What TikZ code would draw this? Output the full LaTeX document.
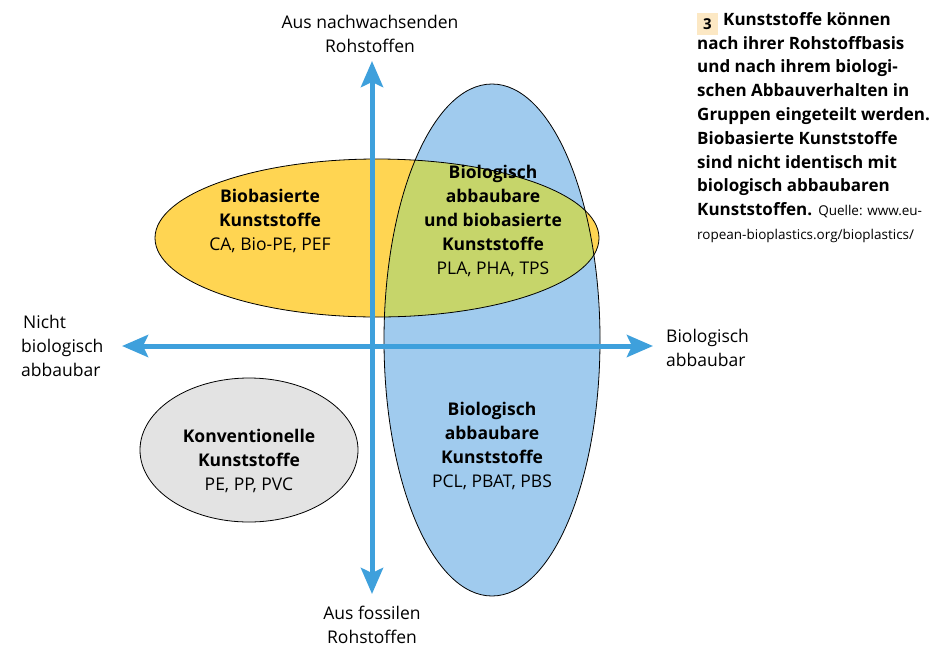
\documentclass[tikz,border=0pt]{standalone}
\usepackage{fontspec}
\setmainfont{Open Sans}
\usetikzlibrary{arrows.meta}
\definecolor{ellyellow}{RGB}{255,213,82}
\definecolor{ellblue}{RGB}{160,203,238}
\definecolor{ellgreen}{RGB}{198,213,106}
\definecolor{ellgray}{RGB}{227,227,227}
\definecolor{axisblue}{RGB}{62,160,220}
\definecolor{numbox}{RGB}{252,232,196}
\tikzset{
  axis/.style={draw=axisblue, line width=5pt, -{Stealth[length=26pt,width=22pt,inset=5pt]}},
  lbl/.style={font=\fontsize{17.5}{24}\selectfont, align=center, inner sep=0pt},
  lblleft/.style={font=\fontsize{17.5}{24}\selectfont, align=left, inner sep=0pt},
  ellline/.style={draw=black, line width=0.8pt},
}
\begin{document}
\begin{tikzpicture}[x=1pt,y=-1pt]
\useasboundingbox (0,0) rectangle (933,646);
% ellipses
\fill[ellyellow] (377,238) ellipse [x radius=222, y radius=79];
\fill[ellblue] (492,340) ellipse [x radius=108, y radius=256];
\begin{scope}
  \clip (492,340) ellipse [x radius=108, y radius=256];
  \fill[ellgreen] (377,238) ellipse [x radius=222, y radius=79];
\end{scope}
\draw[ellline] (377,238) ellipse [x radius=222, y radius=79];
\draw[ellline] (492,340) ellipse [x radius=108, y radius=256];
\draw[ellline, fill=ellgray] (249,450) ellipse [x radius=109, y radius=72];
% axes
\coordinate (vbot) at (372,594);
\coordinate (vtop) at (372,61);
\coordinate (hleft) at (122,346);
\coordinate (hright) at (653,346);
\coordinate (center) at (372,346);
\draw[axis] (center) -- (vtop);
\draw[axis] (center) -- (vbot);
\draw[axis] (center) -- (hleft);
\draw[axis] (center) -- (hright);
% axis labels
\node[lbl] (top) at (370,34) {Aus nachwachsenden\\Rohstoffen};
\node[lbl] (bottom) at (372,625) {Aus fossilen\\Rohstoffen};
\node[lblleft, anchor=west] (left) at (21,346) {\hspace*{2pt}Nicht\\biologisch\\abbaubar};
\node[lblleft, anchor=west] (right) at (666,348) {Biologisch\\abbaubar};
% group labels
\node[lbl] (bio) at (270,221) {\textbf{Biobasierte}\\\textbf{Kunststoffe}\\CA, Bio-PE, PEF};
\node[lbl] (both) at (493,221) {\textbf{Biologisch}\\\textbf{abbaubare}\\\textbf{und biobasierte}\\\textbf{Kunststoffe}\\PLA, PHA, TPS};
\node[lbl] (degr) at (492,446) {\textbf{Biologisch}\\\textbf{abbaubare}\\\textbf{Kunststoffe}\\PCL, PBAT, PBS};
\node[lbl] (conv) at (249,461) {\textbf{Konventionelle}\\\textbf{Kunststoffe}\\PE, PP, PVC};
% caption
\fill[numbox] (697,13) rectangle (718,35);
\node[lbl, font=\fontsize{15}{20}\selectfont\bfseries] (num) at (707.5,24.5) {3};
\node[lblleft, anchor=north west, font=\fontsize{17}{23.8}\selectfont] (cap) at (697,12)
 {\hspace*{26pt}\textbf{Kunststoffe können}\\
  \textbf{nach ihrer Rohstoffbasis}\\
  \textbf{und nach ihrem biologi-}\\
  \textbf{schen Abbauverhalten in}\\
  \textbf{Gruppen eingeteilt werden.}\\
  \textbf{Biobasierte Kunststoffe}\\
  \textbf{sind nicht identisch mit}\\
  \textbf{biologisch abbaubaren}\\
  \textbf{Kunststoffen.}\hspace{6pt}{\fontsize{13.5}{18}\selectfont Quelle: www.eu-}\\
  {\fontsize{13.5}{18}\selectfont ropean-bioplastics.org/bioplastics/}};
\end{tikzpicture}
\end{document}
